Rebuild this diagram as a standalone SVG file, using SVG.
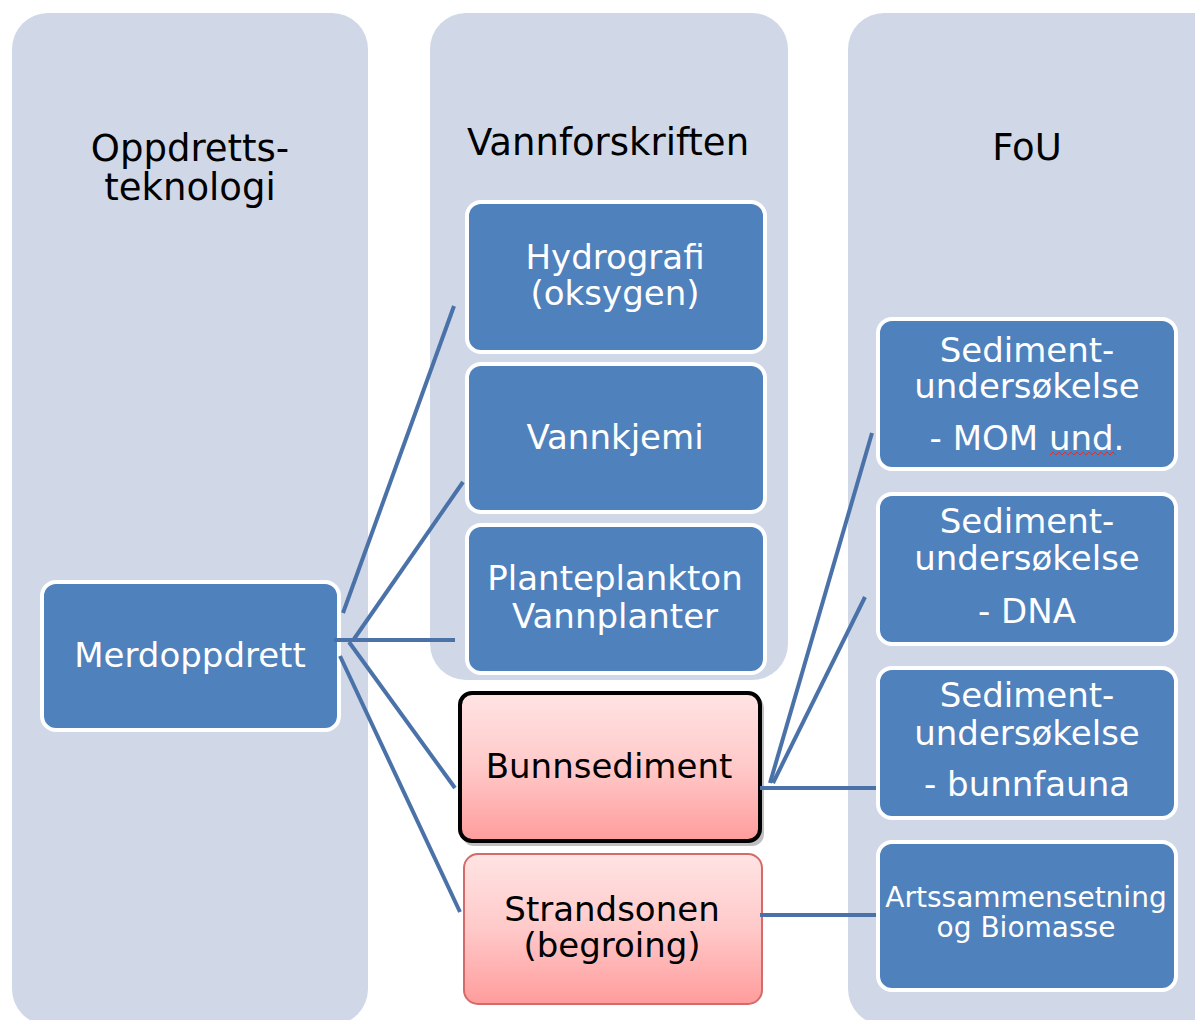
<svg xmlns="http://www.w3.org/2000/svg" width="1195" height="1020" viewBox="0 0 1195 1020">
<defs>
<linearGradient id="pink" x1="0" y1="0" x2="0" y2="1">
<stop offset="0" stop-color="#FFE4E4"/>
<stop offset="0.5" stop-color="#FFC9C9"/>
<stop offset="1" stop-color="#FF9C9C"/>
</linearGradient>
<style>
.col{fill:#D0D8E8}
.box{fill:#4F81BD;stroke:#FFFFFF;stroke-width:4}
.hd{font-family:"DejaVu Sans",Verdana,sans-serif;font-size:37px;fill:#000;text-anchor:middle}
.wt{font-family:"DejaVu Sans",Verdana,sans-serif;font-size:34px;fill:#FFFFFF;text-anchor:middle}
.bk{font-family:"DejaVu Sans",Verdana,sans-serif;font-size:34px;fill:#000;text-anchor:middle}
.sm{font-family:"DejaVu Sans",Verdana,sans-serif;font-size:28px;fill:#FFFFFF;text-anchor:middle}
.ln{stroke:#4A72A8;stroke-width:4;fill:none;stroke-linecap:butt}
</style>
</defs>
<rect width="1195" height="1020" fill="#FFFFFF"/>
<g id="col-oppdrett">
<rect class="col" x="12" y="13" width="356" height="1012" rx="36"/>
<text class="hd" x="190" y="161">Oppdretts-</text>
<text class="hd" x="190" y="200">teknologi</text>
</g>
<g id="col-vannforskriften">
<rect class="col" x="430" y="13" width="358" height="667" rx="36"/>
<text class="hd" x="608" y="155">Vannforskriften</text>
</g>
<g id="col-fou">
<rect class="col" x="848" y="13" width="380" height="1012" rx="36"/>
<text class="hd" x="1027" y="160">FoU</text>
</g>
<g id="merdoppdrett">
<rect class="box" x="42" y="582" width="297" height="148" rx="14"/>
<text class="wt" x="190" y="667">Merdoppdrett</text>
</g>
<g id="hydrografi">
<rect class="box" x="467" y="202" width="298" height="150" rx="14"/>
<text class="wt" x="615" y="269">Hydrografi</text>
<text class="wt" x="615" y="305">(oksygen)</text>
</g>
<g id="vannkjemi">
<rect class="box" x="467" y="364" width="298" height="148" rx="14"/>
<text class="wt" x="615" y="449">Vannkjemi</text>
</g>
<g id="planteplankton">
<rect class="box" x="467" y="525" width="298" height="148" rx="14"/>
<text class="wt" x="615" y="590">Planteplankton</text>
<text class="wt" x="615" y="628">Vannplanter</text>
</g>
<g id="bunnsediment">
<rect x="462" y="696" width="302" height="150" rx="12" fill="#000" opacity="0.25"/>
<rect x="460" y="693" width="300" height="148" rx="12" fill="url(#pink)" stroke="#000" stroke-width="4"/>
<text class="bk" x="609" y="778">Bunnsediment</text>
</g>
<g id="strandsonen">
<rect x="464" y="854" width="298" height="150" rx="14" fill="url(#pink)" stroke="#D46A6A" stroke-width="2"/>
<text class="bk" x="612" y="921">Strandsonen</text>
<text class="bk" x="612" y="957">(begroing)</text>
</g>
<g id="sediment-mom">
<rect class="box" x="878" y="319" width="298" height="150" rx="14"/>
<text class="wt" x="1027" y="362">Sediment-</text>
<text class="wt" x="1027" y="398">undersøkelse</text>
<text class="wt" x="1027" y="450">- MOM und.</text>
<path d="M1050 455 l3 -3 l3 3 l3 -3 l3 3 l3 -3 l3 3 l3 -3 l3 3 l3 -3 l3 3 l3 -3 l3 3 l3 -3 l3 3 l3 -3 l3 3 l3 -3 l3 3 l3 -3 l3 3 l3 -3 l3 3" fill="none" stroke="#E03030" stroke-width="1"/>
</g>
<g id="sediment-dna">
<rect class="box" x="878" y="494" width="298" height="150" rx="14"/>
<text class="wt" x="1027" y="533">Sediment-</text>
<text class="wt" x="1027" y="570">undersøkelse</text>
<text class="wt" x="1027" y="623">- DNA</text>
</g>
<g id="sediment-bunnfauna">
<rect class="box" x="878" y="668" width="298" height="150" rx="14"/>
<text class="wt" x="1027" y="707">Sediment-</text>
<text class="wt" x="1027" y="745">undersøkelse</text>
<text class="wt" x="1027" y="796">- bunnfauna</text>
</g>
<g id="artssammensetning">
<rect class="box" x="878" y="842" width="298" height="148" rx="14"/>
<text class="sm" x="1026" y="907">Artssammensetning</text>
<text class="sm" x="1026" y="937">og Biomasse</text>
</g>
<g id="connectors">
<line class="ln" x1="343" y1="613" x2="454" y2="306"/>
<line class="ln" x1="354" y1="639" x2="463" y2="482"/>
<line class="ln" x1="334" y1="640" x2="455" y2="640"/>
<line class="ln" x1="349" y1="642" x2="455" y2="788"/>
<line class="ln" x1="340" y1="656" x2="460" y2="912"/>
<line class="ln" x1="760" y1="788" x2="876" y2="788"/>
<line class="ln" x1="770" y1="783" x2="872" y2="433"/>
<line class="ln" x1="773" y1="783" x2="865" y2="597"/>
<line class="ln" x1="760" y1="915" x2="876" y2="915"/>
</g>
</svg>
